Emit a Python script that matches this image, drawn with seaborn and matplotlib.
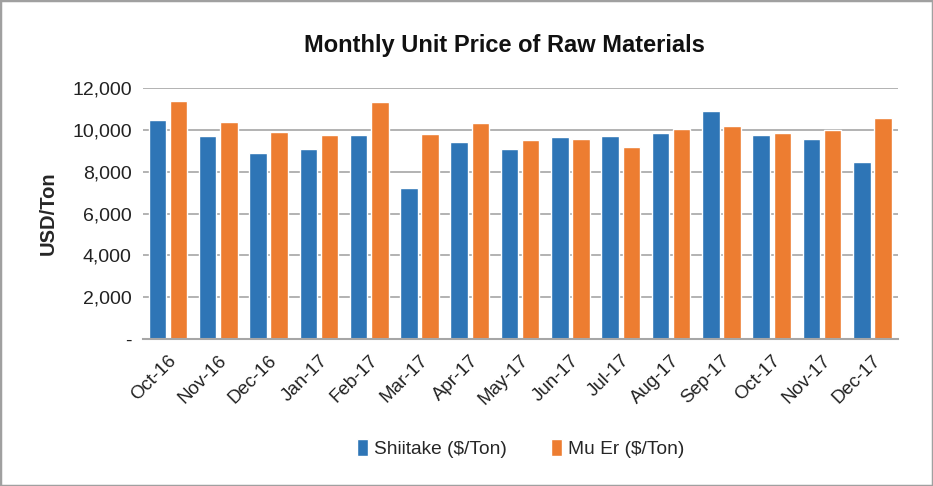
import matplotlib

matplotlib.use("Agg")

import matplotlib.pyplot as plt
import pandas as pd
import seaborn as sns
from matplotlib.patches import Rectangle
from matplotlib.ticker import FuncFormatter

months = [
    "Oct-16", "Nov-16", "Dec-16", "Jan-17", "Feb-17", "Mar-17", "Apr-17", "May-17",
    "Jun-17", "Jul-17", "Aug-17", "Sep-17", "Oct-17", "Nov-17", "Dec-17",
]
shiitake = [10450, 9700, 8900, 9100, 9750, 7200, 9420, 9070,
            9660, 9700, 9830, 10900, 9760, 9570, 8450]
mu_er = [11400, 10380, 9920, 9750, 11350, 9780, 10330, 9520,
         9580, 9180, 10020, 10200, 9860, 10000, 10550]
series_names = ["Shiitake ($/Ton)", "Mu Er ($/Ton)"]
colors = ["#2E75B6", "#ED7D31"]

df = pd.DataFrame({
    "month": months * 2,
    "price": shiitake + mu_er,
    "series": [series_names[0]] * len(months) + [series_names[1]] * len(months),
})

sns.set_style("white")
plt.rcParams["font.family"] = ["Liberation Sans", "DejaVu Sans"]

fig = plt.figure(figsize=(9.33, 4.86), dpi=100)
ax = fig.add_axes([0.153, 0.302, 0.809, 0.517])

sns.barplot(
    data=df, x="month", y="price", hue="series", order=months,
    hue_order=series_names, palette=colors, width=0.84, gap=0.17,
    saturation=1, ax=ax, legend=True,
)

ax.set_ylim(0, 12000)
ax.set_xlim(-0.5, len(months) - 0.5)
ax.set_yticks(range(0, 12001, 2000))
ax.yaxis.set_major_formatter(FuncFormatter(lambda v, _: "-" if v == 0 else f"{int(v):,}"))
ax.grid(axis="y", color="#A6A6A6", linewidth=1.2)
ax.set_axisbelow(True)
for side in ["left", "right", "top"]:
    ax.spines[side].set_visible(False)
ax.spines["bottom"].set_color("#A6A6A6")
ax.spines["bottom"].set_linewidth(1.5)

ax.tick_params(axis="y", labelsize=14, length=0, pad=8, labelcolor="#222222")
ax.tick_params(axis="x", labelsize=13.5, length=0, pad=9, labelcolor="#222222")
plt.setp(ax.get_xticklabels(), rotation=45, ha="right", rotation_mode="anchor")

ax.set_xlabel("")
ax.set_ylabel("USD/Ton", fontsize=14.5, fontweight="bold", labelpad=10)

fig.text(0.541, 0.907, "Monthly Unit Price of Raw Materials", ha="center", va="center",
         fontsize=17, fontweight="bold", color="#111111")

handles, labels = ax.get_legend_handles_labels()
ax.legend_.remove()
fig.legend(handles, labels, loc="center", bbox_to_anchor=(0.558, 0.078), ncol=2,
           frameon=False, fontsize=13.8, handlelength=0.6, handleheight=1.0,
           handletextpad=0.3, columnspacing=2.3)

fig.patches.append(Rectangle((0, 0), 1, 1, transform=fig.transFigure, fill=False,
                             edgecolor="#A0A0A0", linewidth=2.5))

fig.savefig("out.png", dpi=100)
plt.close(fig)
